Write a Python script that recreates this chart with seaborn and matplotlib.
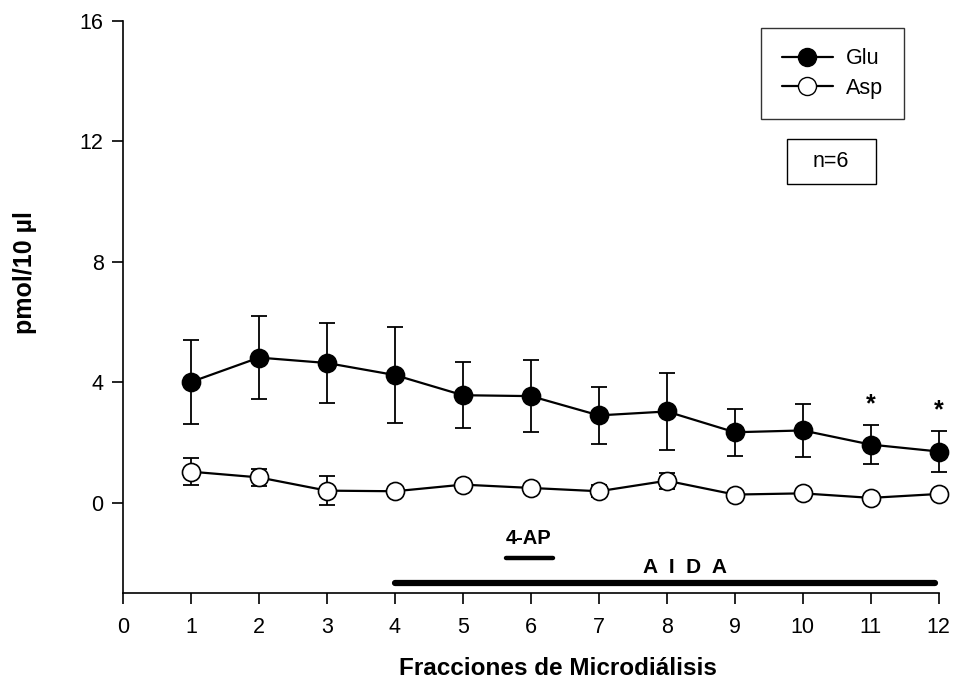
import matplotlib
matplotlib.use("Agg")
import matplotlib.pyplot as plt
from matplotlib.lines import Line2D
from matplotlib.patches import Rectangle
import numpy as np
import pandas as pd
import seaborn as sns

# Fractions and mean ± SEM concentrations (pmol/10 µl)
fractions = [1, 2, 3, 4, 5, 6, 7, 8, 9, 10, 11, 12]
glu_mean = [4.01, 4.82, 4.64, 4.24, 3.57, 3.54, 2.90, 3.03, 2.34, 2.40, 1.93, 1.70]
glu_err = [1.40, 1.37, 1.32, 1.60, 1.10, 1.20, 0.95, 1.27, 0.78, 0.87, 0.65, 0.68]
asp_mean = [1.03, 0.84, 0.40, 0.38, 0.60, 0.49, 0.38, 0.73, 0.27, 0.31, 0.16, 0.29]
asp_err = [0.45, 0.27, 0.49, 0.10, 0.10, 0.10, 0.20, 0.27, 0.10, 0.10, 0.10, 0.10]
significant = [11, 12]

# Treatment periods
ap_period = [5.63, 6.32]
aida_period = [4.0, 11.94]

x_ticks = list(range(0, 13))
y_ticks = [0, 4, 8, 12, 16]

sns.set_theme(style="ticks")
plt.rcParams["font.family"] = ["Liberation Sans", "DejaVu Sans"]
plt.rcParams["text.color"] = "black"
plt.rcParams["axes.labelcolor"] = "black"

fig = plt.figure(figsize=(9.54, 6.85), dpi=100)
ax = fig.add_axes([0.129, 0.1343, 0.855, 0.835])

df = pd.DataFrame({
    "fraction": fractions * 2,
    "value": glu_mean + asp_mean,
    "err": glu_err + asp_err,
    "amino": ["Glu"] * len(fractions) + ["Asp"] * len(fractions),
})

face = {"Glu": "black", "Asp": "white"}
for name in ["Glu", "Asp"]:
    sub = df[df["amino"] == name]
    eb = ax.errorbar(sub["fraction"], sub["value"], yerr=sub["err"], fmt="none",
                     ecolor="black", elinewidth=1.3, capsize=6, capthick=1.3,
                     zorder=2)
    for art in eb.lines[1] + eb.lines[2]:
        art.set_clip_on(False)
    sns.lineplot(data=sub, x="fraction", y="value", ax=ax, color="black",
                 linewidth=1.6, marker="o", markersize=13,
                 markerfacecolor=face[name], markeredgecolor="black",
                 markeredgewidth=1.2, zorder=3, legend=False, clip_on=False)

# Significance marks above the error bars
for f in significant:
    i = fractions.index(f)
    ax.text(f, glu_mean[i] + glu_err[i] + 0.68, "*", ha="center", va="center",
            fontsize=18, fontweight="bold", color="black")

# Treatment bars
ax.plot(ap_period, [-1.83, -1.83], color="black", linewidth=3.2,
        solid_capstyle="round", clip_on=False)
ax.text(5.97, -1.2, "4-AP", ha="center", va="center",
        fontsize=14.5, fontweight="bold", color="black")
ax.plot(aida_period, [-2.66, -2.66], color="black", linewidth=4.5,
        solid_capstyle="round", clip_on=False)
ax.text(8.26, -2.16, "A  I  D  A", ha="center", va="center",
        fontsize=15, fontweight="bold", color="black")

ax.set_xlim(0, 12)
ax.set_ylim(-3, 16)
ax.set_xticks(x_ticks)
ax.set_yticks(y_ticks)
ax.tick_params(axis="both", direction="out", length=8, width=1.2,
               labelsize=15.5, color="black", labelcolor="black")
ax.tick_params(axis="x", pad=9)
ax.tick_params(axis="y", pad=6)
for s in ["top", "right"]:
    ax.spines[s].set_visible(False)
for s in ["left", "bottom"]:
    ax.spines[s].set_color("black")
    ax.spines[s].set_linewidth(1.2)
ax.set_xlabel("Fracciones de Microdiálisis", fontsize=17.5, fontweight="bold",
              color="black")
ax.set_ylabel("pmol/10 µl", fontsize=18, fontweight="bold", color="black")
ax.xaxis.set_label_coords(0.533, -0.112)
ax.yaxis.set_label_coords(-0.105, 0.561)

handles = [
    Line2D([], [], color="black", linewidth=1.6, marker="o", markersize=13,
           markerfacecolor="black", markeredgecolor="black"),
    Line2D([], [], color="black", linewidth=1.6, marker="o", markersize=13,
           markerfacecolor="white", markeredgecolor="black"),
]
leg = ax.legend(handles, ["Glu", "Asp"], loc="upper right",
                bbox_to_anchor=(0.957, 0.988), frameon=True, fancybox=False,
                fontsize=15.5, handlelength=2.4, handletextpad=0.6,
                borderpad=0.95, labelspacing=0.4, borderaxespad=0)
leg.get_frame().set_edgecolor("black")
leg.get_frame().set_linewidth(1.0)
for t in leg.get_texts():
    t.set_color("black")

# Sample-size box
ax.add_patch(Rectangle((0.8137, 0.715), 0.109, 0.0787, transform=ax.transAxes,
                       facecolor="white", edgecolor="black", linewidth=1.0,
                       clip_on=False))
ax.text(0.8137 + 0.109 / 2, 0.715 + 0.0787 / 2, "n=6", transform=ax.transAxes,
        ha="center", va="center", fontsize=15.5, color="black")

fig.savefig("out.png", dpi=100)
